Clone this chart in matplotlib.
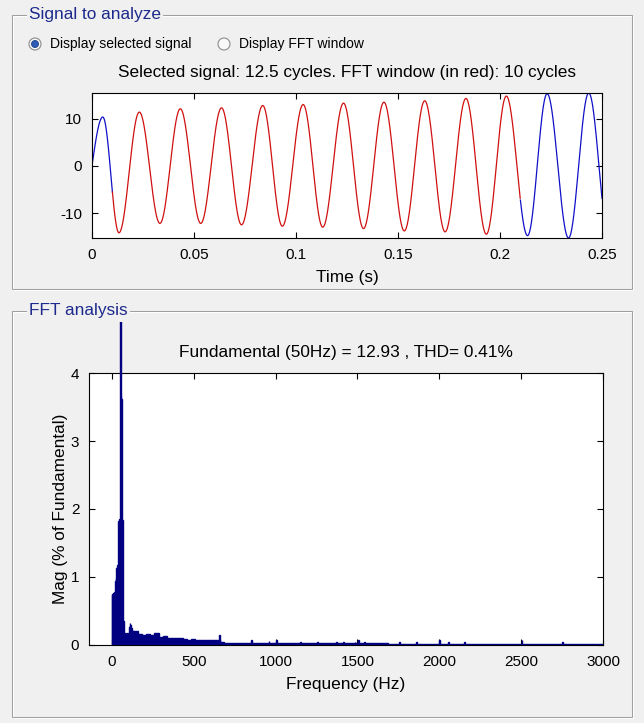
import numpy as np
import matplotlib
matplotlib.use('Agg')
import matplotlib.pyplot as plt
from matplotlib.patches import Rectangle, Circle
from matplotlib.transforms import Bbox, TransformedBbox

plt.rcParams['font.family'] = ['Liberation Sans', 'DejaVu Sans']
plt.rcParams['axes.unicode_minus'] = False

# --- selected signal: extrema (time s, value) ---
peak_t = [0.0053, 0.0232, 0.0433, 0.0635, 0.0837, 0.1035, 0.1233,
          0.1431, 0.1631, 0.1833, 0.2031, 0.2231, 0.2435]
peak_v = [10.35, 11.4, 12.1, 12.3, 12.8, 13.0, 13.3,
          13.5, 13.8, 14.3, 14.8, 15.3, 15.45]
trough_t = [0.0132, 0.0333, 0.0533, 0.0733, 0.0933, 0.1131,
            0.1331, 0.1531, 0.1731, 0.1933, 0.2135, 0.2336]
trough_v = [-14.2, -12.2, -12.2, -12.5, -12.8, -13.0,
            -13.3, -13.8, -14.0, -14.5, -14.8, -15.3]
# troughs just outside the record, so the curve starts near 0 and ends near -7
lead_in = (-0.0047, -8.5)
lead_out = (0.2535, -15.3)
t_end = 0.25
win_start, win_end = 0.01, 0.21   # FFT window (red), 10 cycles

# --- FFT result, % of fundamental ---
low_freqs = np.arange(0, 135, 5)
low_mags = [0.74, 0.75, 0.76, 0.78, 0.94, 0.98, 1.13, 1.17, 1.83, 1.86,
            100.0, 3.66, 3.62, 1.84, 0.36, 0.18, 0.17, 0.16, 0.17, 0.16,
            0.18, 0.26, 0.32, 0.30, 0.25, 0.21, 0.20]
mid_edges = np.arange(135, 685, 25)
mid_mags = [0.21, 0.16, 0.15, 0.16, 0.15, 0.18, 0.12, 0.13, 0.11, 0.11, 0.10,
            0.10, 0.09, 0.08, 0.085, 0.075, 0.07, 0.075, 0.07, 0.075, 0.07, 0.04]
floor_edges = np.arange(685, 3085, 100)
floor_mags = [0.035, 0.03, 0.03, 0.03, 0.028, 0.028, 0.025, 0.025, 0.025, 0.025,
              0.022, 0.022, 0.022, 0.022, 0.02, 0.02, 0.02, 0.02, 0.02, 0.02,
              0.02, 0.02, 0.02, 0.02]
spike_f = [655, 855, 960, 1005, 1150, 1255, 1370, 1415, 1485, 1505, 1545,
           1755, 1860, 2000, 2055, 2155, 2505, 2755]
spike_m = [0.14, 0.07, 0.06, 0.07, 0.05, 0.05, 0.04, 0.045, 0.05, 0.07, 0.045,
           0.045, 0.045, 0.075, 0.045, 0.045, 0.07, 0.045]

title_top = 'Selected signal: 12.5 cycles. FFT window (in red): 10 cycles'
title_fft = 'Fundamental (50Hz) = 12.93 , THD= 0.41%'

W, H = 644, 723
BG = '#f0f0f0'
NAVY = '#000080'
PANEL_TXT = '#1c2a8c'

fig = plt.figure(figsize=(W / 100, H / 100), dpi=100, facecolor=BG)
bg = fig.add_axes([0, 0, 1, 1])
bg.set_xlim(0, W)
bg.set_ylim(H, 0)
bg.axis('off')


def px_axes(l, t, r, b):
    return fig.add_axes([l / W, 1 - b / H, (r - l) / W, (b - t) / H])


def etched_panel(x0, y0, x1, y1, title):
    bg.add_patch(Rectangle((x0 + 1, y0 + 1), x1 - x0, y1 - y0, fill=False, ec='white', lw=0.75))
    bg.add_patch(Rectangle((x0, y0), x1 - x0, y1 - y0, fill=False, ec='#a0a0a0', lw=0.75))
    bg.text(x0 + 17, y0, title, color=PANEL_TXT, fontsize=12.4, ha='left', va='center',
            bbox=dict(fc=BG, ec='none', pad=1.5))


def radio(x, y, label, selected):
    bg.add_patch(Circle((x, y), 6, fc='#f8f8f8', ec='#8c8c8c', lw=0.8))
    if selected:
        bg.add_patch(Circle((x, y), 3.5, fc='#2d5bb5', ec='#1d3f8a', lw=0.6))
    bg.text(x + 15, y, label, fontsize=10, ha='left', va='center')


etched_panel(12, 15, 632, 289, 'Signal to analyze')
etched_panel(12, 311, 632, 717, 'FFT analysis')
radio(35, 44, 'Display selected signal', True)
radio(224, 44, 'Display FFT window', False)


def style(ax):
    ax.set_facecolor('white')
    for sp in ax.spines.values():
        sp.set_linewidth(0.8)
    ax.tick_params(direction='in', length=4, width=0.8, top=True, right=True,
                   labelsize=11, pad=7)


# --- upper plot: signal ---
et = np.concatenate([[lead_in[0]], peak_t, trough_t, [lead_out[0]]])
ev = np.concatenate([[lead_in[1]], peak_v, trough_v, [lead_out[1]]])
o = np.argsort(et)
et, ev = et[o], ev[o]
t = np.linspace(0, t_end, 2501)
i = np.searchsorted(et, t, side='right') - 1
s = (t - et[i]) / (et[i + 1] - et[i])
y = ev[i] + (ev[i + 1] - ev[i]) * (1 - np.cos(np.pi * s)) / 2
win = (t >= win_start) & (t <= win_end)
before = t <= win_start
after = t >= win_end

ax1 = px_axes(92, 93, 602, 238)
style(ax1)
ax1.plot(t[before], y[before], color='#1010c8', lw=0.9)
ax1.plot(t[after], y[after], color='#1010c8', lw=0.9)
ax1.plot(t[win], y[win], color='#d01010', lw=0.9)
ax1.set_xlim(0, t_end)
ax1.set_ylim(y.min(), y.max())
ax1.set_xticks([0, 0.05, 0.1, 0.15, 0.2, 0.25])
ax1.set_xticklabels(['0', '0.05', '0.1', '0.15', '0.2', '0.25'])
ax1.set_yticks([-10, 0, 10])
ax1.set_xlabel('Time (s)', fontsize=12.4)
ax1.xaxis.set_label_coords(0.5, -0.269)
ax1.xaxis.label.set_va('center')
ax1.text(0.5, 1.138, title_top, transform=ax1.transAxes, ha='center', va='center', fontsize=12.4)

# --- lower plot: spectrum ---
ax2 = px_axes(89, 373, 603, 645)
style(ax2)
kw = dict(color=NAVY, edgecolor=NAVY, linewidth=1.0, zorder=3)
bars = []
bars += list(ax2.bar(low_freqs, low_mags, width=5, **kw))
bars += list(ax2.bar(mid_edges, mid_mags, width=25, align='edge', **kw))
bars += list(ax2.bar(floor_edges, floor_mags, width=100, align='edge', **kw))
bars += list(ax2.bar(spike_f, spike_m, width=5, **kw))
ax2.set_xlim(-140, 3000)
ax2.set_ylim(0, 4)
# the fundamental bar runs above the axes, up to just under the panel title
clip = TransformedBbox(Bbox.from_extents(0, 0, 1, 1 + 51 / 272), ax2.transAxes)
for b in bars:
    b.set_clip_path(None)
    b.set_clip_box(clip)
ax2.set_xticks(np.arange(0, 3001, 500))
ax2.set_yticks([0, 1, 2, 3, 4])
ax2.set_xlabel('Frequency (Hz)', fontsize=12.4)
ax2.xaxis.set_label_coords(0.5, -0.147)
ax2.xaxis.label.set_va('center')
ax2.set_ylabel('Mag (% of Fundamental)', fontsize=12.4)
ax2.yaxis.set_label_coords(-0.0564, 0.5)
ax2.yaxis.label.set_va('center')
ax2.text(0.5, 1.077, title_fft, transform=ax2.transAxes, ha='center', va='center', fontsize=12.4)

fig.savefig('out.png', dpi=100, facecolor=BG)
